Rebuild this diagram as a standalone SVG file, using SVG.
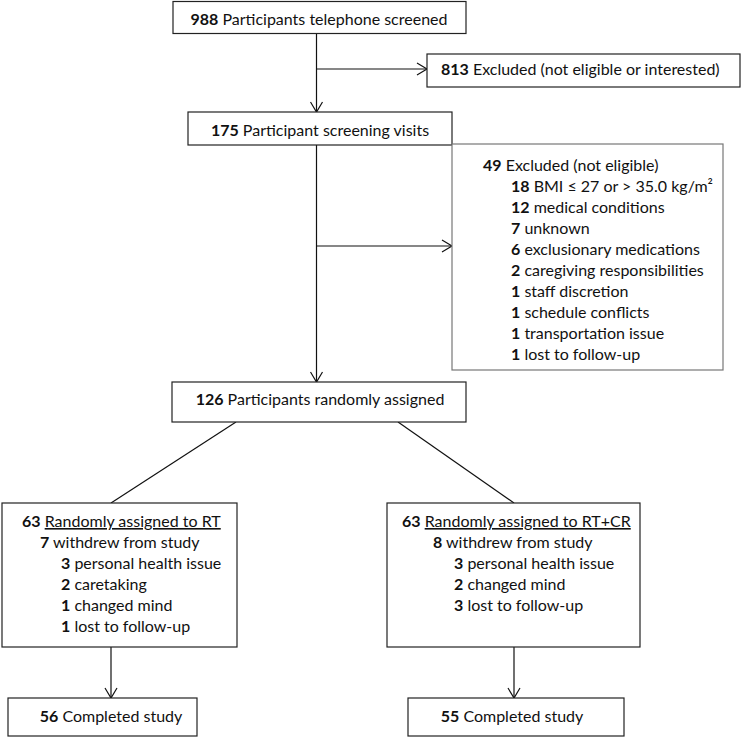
<svg xmlns="http://www.w3.org/2000/svg" width="743" height="738" viewBox="0 0 743 738">
<style>
  text { font-family: Lato, "Liberation Sans", sans-serif; font-size: 16px; fill: #111; }
  .b { font-weight: bold; }
  .box { fill: #fff; stroke: #222; stroke-width: 1.2; }
  .gbox { fill: #fff; stroke: #777; stroke-width: 1.2; }
  .c { fill: none; stroke: #111; stroke-width: 1.2; }
  .mid { text-anchor: middle; }
</style>
<defs>
  <marker id="arr" markerWidth="14" markerHeight="14" refX="12" refY="7" orient="auto" markerUnits="userSpaceOnUse">
    <path d="M2,1 L12,7 L2,13" fill="none" stroke="#111" stroke-width="1.2"/>
  </marker>
</defs>
<g id="connectors">
  <line class="c" x1="316.5" y1="33" x2="316.5" y2="112" marker-end="url(#arr)"/>
  <line class="c" x1="316.5" y1="69" x2="427" y2="69" marker-end="url(#arr)"/>
  <line class="c" x1="316.5" y1="145" x2="316.5" y2="382" marker-end="url(#arr)"/>
  <line class="c" x1="316.5" y1="246" x2="452" y2="246" marker-end="url(#arr)"/>
  <line class="c" x1="236" y1="422" x2="111" y2="503"/>
  <line class="c" x1="398" y1="422" x2="514" y2="503"/>
  <line class="c" x1="111" y1="647" x2="111" y2="698" marker-end="url(#arr)"/>
  <line class="c" x1="514" y1="647" x2="514" y2="698" marker-end="url(#arr)"/>
</g>
<g id="screened">
  <rect class="box" x="173" y="1.5" width="293" height="32"/>
  <text class="mid" x="319" y="25"><tspan class="b">988</tspan> Participants telephone screened</text>
</g>
<g id="excluded1">
  <rect class="box" x="427" y="54" width="313" height="33"/>
  <text x="441" y="75"><tspan class="b">813</tspan> Excluded (not eligible or interested)</text>
</g>
<g id="visits">
  <rect class="box" x="188" y="112" width="264" height="33"/>
  <text class="mid" x="320" y="136"><tspan class="b">175</tspan> Participant screening visits</text>
</g>
<g id="excluded2">
  <rect class="gbox" x="452" y="144" width="271" height="226"/>
  <text x="483" y="171"><tspan class="b">49</tspan> Excluded (not eligible)</text>
  <text x="511" y="192"><tspan class="b">18</tspan> BMI ≤ 27 or &gt; 35.0 kg/m²</text>
  <text x="511" y="213"><tspan class="b">12</tspan> medical conditions</text>
  <text x="511" y="234"><tspan class="b">7</tspan> unknown</text>
  <text x="511" y="255"><tspan class="b">6</tspan> exclusionary medications</text>
  <text x="511" y="276"><tspan class="b">2</tspan> caregiving responsibilities</text>
  <text x="511" y="297"><tspan class="b">1</tspan> staff discretion</text>
  <text x="511" y="318"><tspan class="b">1</tspan> schedule conflicts</text>
  <text x="511" y="339"><tspan class="b">1</tspan> transportation issue</text>
  <text x="511" y="360"><tspan class="b">1</tspan> lost to follow-up</text>
</g>
<g id="randomized">
  <rect class="box" x="172" y="382" width="294" height="40"/>
  <text class="mid" x="320" y="405"><tspan class="b">126</tspan> Participants randomly assigned</text>
</g>
<g id="armRT">
  <rect class="box" x="2" y="503" width="235" height="144"/>
  <text x="22" y="527"><tspan class="b">63</tspan> <tspan text-decoration="underline">Randomly assigned to RT</tspan></text>
  <text x="40" y="548"><tspan class="b">7</tspan> withdrew from study</text>
  <text x="61" y="569"><tspan class="b">3</tspan> personal health issue</text>
  <text x="61" y="590"><tspan class="b">2</tspan> caretaking</text>
  <text x="61" y="611"><tspan class="b">1</tspan> changed mind</text>
  <text x="61" y="632"><tspan class="b">1</tspan> lost to follow-up</text>
</g>
<g id="armRTCR">
  <rect class="box" x="387" y="503" width="253" height="144"/>
  <text x="402" y="527"><tspan class="b">63</tspan> <tspan text-decoration="underline">Randomly assigned to RT+CR</tspan></text>
  <text x="433" y="548"><tspan class="b">8</tspan> withdrew from study</text>
  <text x="454" y="569"><tspan class="b">3</tspan> personal health issue</text>
  <text x="454" y="590"><tspan class="b">2</tspan> changed mind</text>
  <text x="454" y="611"><tspan class="b">3</tspan> lost to follow-up</text>
</g>
<g id="completedRT">
  <rect class="box" x="8" y="698" width="189" height="38"/>
  <text class="mid" x="111" y="722"><tspan class="b">56</tspan> Completed study</text>
</g>
<g id="completedRTCR">
  <rect class="box" x="408" y="698" width="216" height="38"/>
  <text class="mid" x="512" y="722"><tspan class="b">55</tspan> Completed study</text>
</g>
</svg>
